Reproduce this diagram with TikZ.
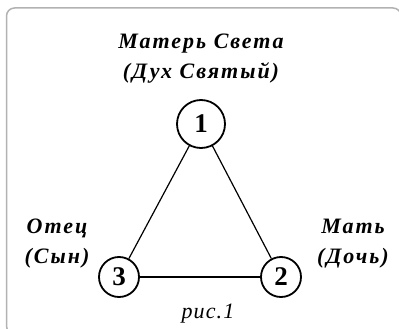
\documentclass[tikz,border=0pt]{standalone}
\usepackage{fontspec}
\setmainfont{Liberation Serif}
\usetikzlibrary{positioning}
\tikzstyle{vertex} = [circle, draw, line width=1.8pt, inner sep=0pt, font=\bfseries\fontsize{27}{27}\selectfont]
\tikzstyle{bigvertex} = [vertex, minimum size=48pt]
\tikzstyle{smallvertex} = [vertex, minimum size=40pt]
\tikzstyle{caption} = [align=center, inner sep=0pt, font=\bfseries\itshape\fontsize{22}{30}\selectfont\addfontfeatures{LetterSpace=9}]
\tikzstyle{line} = [draw, line width=1.2pt]

\begin{document}
\begin{tikzpicture}[x=1pt, y=-1pt]
\useasboundingbox (0,0) rectangle (399,329);
% frame
\draw [gray!60, line width=1.5pt, rounded corners=8pt] (6.5,8) rectangle (401,334);
% vertices
\node [bigvertex] (one) at (201,124) {1};
\node [smallvertex] (two) at (281,277) {2};
\node [smallvertex] (three) at (119,277) {3};
% captions
\node [caption] (topcap) at (201,59) {Матерь Света\\(Дух Святый)};
\node [caption] (leftcap) at (57,244) {Отец\\(Сын)};
\node [caption] (rightcap) at (353,244) {Мать\\(Дочь)};
\node [font=\itshape\fontsize{22}{22}\selectfont\addfontfeatures{LetterSpace=5}] (fig) at (208,314) {рис.1};
% edges
\path [line] (one) -- (two);
\path [line] (one) -- (three);
\path [line] (three) -- (two);
\end{tikzpicture}
\end{document}
